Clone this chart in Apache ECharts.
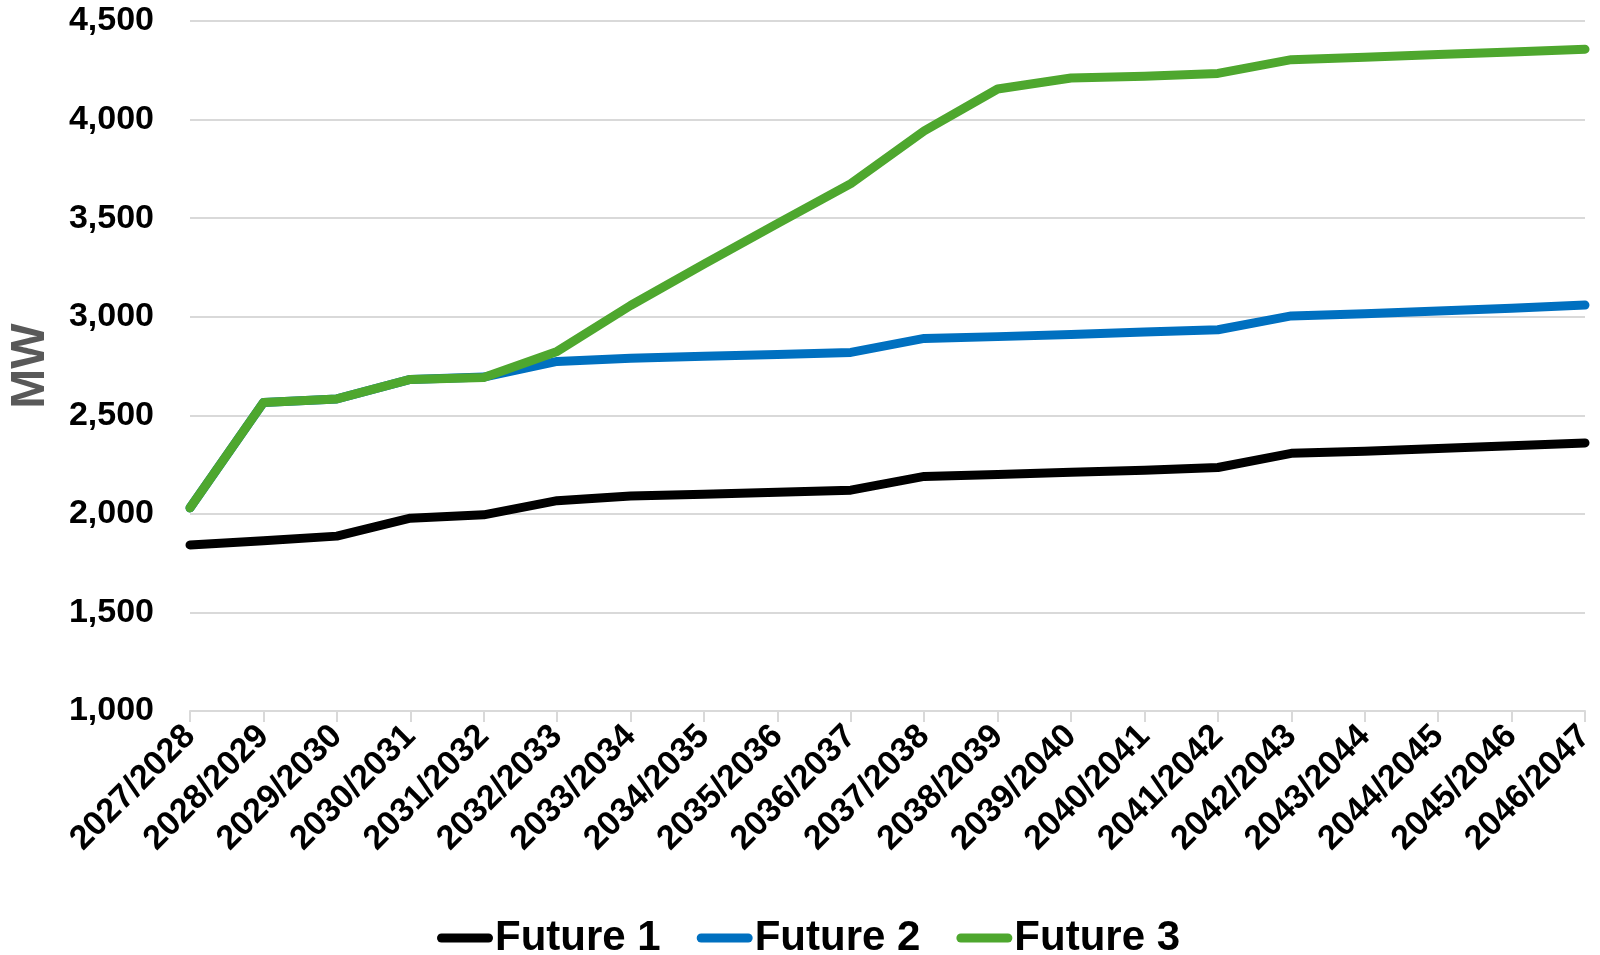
<!DOCTYPE html>
<html>
<head>
<meta charset="utf-8">
<script src="https://cdn.jsdelivr.net/npm/echarts@6/dist/echarts.min.js"></script>
<style>
html,body{margin:0;padding:0;background:#fff;}
#chart{width:1600px;height:955px;}
</style>
</head>
<body>
<div id="chart"></div>
<script>
const categories = ["2027/2028","2028/2029","2029/2030","2030/2031","2031/2032","2032/2033","2033/2034","2034/2035","2035/2036","2036/2037","2037/2038","2038/2039","2039/2040","2040/2041","2041/2042","2042/2043","2043/2044","2044/2045","2045/2046","2046/2047"];
const future1 = [1842,1863,1887,1978,1995,2067,2090,2100,2109,2120,2190,2200,2211,2221,2235,2307,2318,2332,2346,2360];
const future2 = [2030,2565,2583,2682,2694,2773,2789,2799,2808,2819,2890,2899,2910,2922,2934,3004,3015,3029,3043,3059];
const future3 = [2030,2565,2583,2682,2692,2824,3057,3267,3472,3675,3943,4155,4211,4220,4234,4304,4316,4330,4343,4357];
const seriesNames = ["Future 1","Future 2","Future 3"];
const yTicks = {min:1000, max:4500, step:500};

const colors = ["#000000","#0070C0","#4EA72E"];
const chart = echarts.init(document.getElementById('chart'));
const dataSets = [future1, future2, future3];
const font = "'Liberation Sans', Arial, sans-serif";

chart.setOption({
  animation: false,
  color: colors,
  grid: {left: 190, right: 15, top: 21, bottom: 244, containLabel: false, outerBoundsMode: 'none'},
  legend: {
    data: seriesNames,
    left: 432, top: 912,
    itemWidth: 56, itemHeight: 9, itemGap: 36,
    icon: 'path://M4.5,0 L51.5,0 A4.5,4.5 0 0 1 51.5,9 L4.5,9 A4.5,4.5 0 0 1 4.5,0 Z',
    textStyle: {fontFamily: font, fontWeight: 'bold', fontSize: 42, color: '#000', padding: [0,0,0,-3]}
  },
  xAxis: {
    type: 'category',
    data: categories,
    boundaryGap: false,
    axisLine: {show: true, lineStyle: {color: '#D9D9D9', width: 2}},
    axisTick: {show: true, length: 11, lineStyle: {color: '#D9D9D9', width: 2}},
    axisLabel: {rotate: 45, interval: 0, margin: 20, fontFamily: font, fontWeight: 'bold', fontSize: 34, color: '#000'}
  },
  yAxis: {
    type: 'value',
    min: yTicks.min, max: yTicks.max, interval: yTicks.step,
    name: 'MW', nameLocation: 'middle', nameGap: 135,
    nameTextStyle: {fontFamily: font, fontWeight: 'bold', fontSize: 48, color: '#595959'},
    axisLine: {show: false},
    axisTick: {show: false},
    splitLine: {lineStyle: {color: '#D9D9D9', width: 2}},
    axisLabel: {margin: 36, fontFamily: font, fontWeight: 'bold', fontSize: 34, color: '#000',
      formatter: v => v.toLocaleString('en-US')}
  },
  series: dataSets.map((d, i) => ({
    name: seriesNames[i],
    type: 'line',
    data: d,
    showSymbol: false,
    symbol: 'none',
    z: 2 + i,
    lineStyle: {width: 9, color: colors[i], cap: 'round', join: 'round'}
  }))
});
</script>
</body>
</html>
